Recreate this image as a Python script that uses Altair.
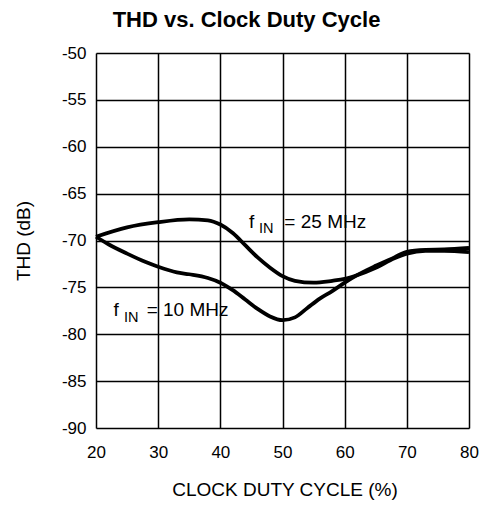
import altair as alt
import pandas as pd

# Data
duty_25 = [20, 25, 30, 35, 38, 40, 42, 44, 46, 48, 50, 52, 55, 58, 60, 62, 65, 68, 70, 73, 76, 80]
thd_25 = [-69.6, -68.6, -68.05, -67.75, -67.85, -68.3, -69.2, -70.5, -71.8, -72.9, -73.8, -74.3,
          -74.5, -74.3, -74.1, -73.7, -72.9, -71.9, -71.4, -71.1, -71.1, -71.25]

duty_10 = [20, 22, 25, 28, 30, 33, 35, 38, 40, 42, 44, 46, 48, 50, 52, 54, 56, 58, 60, 62, 65, 68, 70, 73, 76, 80]
thd_10 = [-69.6, -70.4, -71.4, -72.3, -72.8, -73.4, -73.6, -74.0, -74.5, -75.3, -76.3, -77.3, -78.1,
          -78.5, -78.2, -77.2, -76.2, -75.4, -74.5, -73.7, -72.7, -71.8, -71.2, -71.0, -70.95, -70.8]

x_ticks = [20, 30, 40, 50, 60, 70, 80]
y_ticks = [-90, -85, -80, -75, -70, -65, -60, -55, -50]

label_text = ["f", "IN", "= 25 MHz", "f", "IN", "= 10 MHz"]
label_x = [44.6, 46.2, 50.3, 22.8, 24.5, 28.15]
label_y = [-68.63, -69.2, -68.63, -78.1, -78.7, -78.1]
label_size = [19, 14.5, 19, 19, 14.5, 19]

FONT = "Liberation Sans"

rows = []
for x, y in zip(duty_25, thd_25):
    rows.append({"duty": x, "thd": y, "series": "25 MHz"})
for x, y in zip(duty_10, thd_10):
    rows.append({"duty": x, "thd": y, "series": "10 MHz"})
df = pd.DataFrame(rows)
labels = pd.DataFrame({"text": label_text, "duty": label_x, "thd": label_y, "size": label_size})

x_scale = alt.Scale(domain=[20, 80], nice=False, zero=False)
y_scale = alt.Scale(domain=[-90, -50], nice=False, zero=False)

x_axis = alt.Axis(values=x_ticks, title="CLOCK DUTY CYCLE (%)", grid=True, gridColor="black",
                  gridWidth=1.5, gridOpacity=1, ticks=False, domain=False, labelPadding=16,
                  labelFlush=False, labelExpr="'' + datum.value",
                  labelFontSize=17, labelFont=FONT, labelColor="black",
                  titleFont=FONT, titleFontSize=19, titleFontWeight="normal", titleColor="black",
                  titleY=61, titleX=188.5, titleBaseline="middle", titleAlign="center")
y_axis = alt.Axis(values=y_ticks, title="THD (dB)", grid=True, gridColor="black",
                  gridWidth=1.5, gridOpacity=1, ticks=False, domain=False, labelPadding=10,
                  labelFlush=False, labelExpr="'' + datum.value",
                  labelFontSize=17, labelFont=FONT, labelColor="black",
                  titleFont=FONT, titleFontSize=19, titleFontWeight="normal", titleColor="black",
                  titleX=-73, titleY=187.5, titleAngle=-90, titleBaseline="middle", titleAlign="center")

lines = alt.Chart(df).mark_line(color="black", strokeWidth=3.8, interpolate="monotone").encode(
    x=alt.X("duty:Q", scale=x_scale, axis=x_axis),
    y=alt.Y("thd:Q", scale=y_scale, axis=y_axis),
    detail="series:N",
)

text = alt.Chart(labels).mark_text(align="left", baseline="alphabetic", font=FONT,
                                    color="black").encode(
    x=alt.X("duty:Q", scale=x_scale),
    y=alt.Y("thd:Q", scale=y_scale),
    text="text:N",
    size=alt.Size("size:Q", scale=None, legend=None),
)

chart = alt.layer(lines, text).properties(
    width=373,
    height=375,
    padding={"left": 88, "top": 45, "right": 10, "bottom": 75},
    autosize="none",
    title=alt.TitleParams("THD vs. Clock Duty Cycle", font=FONT, fontSize=22, fontWeight="bold",
                          color="black", anchor="middle", dx=-36, offset=12),
).configure_view(stroke="black", strokeWidth=2).configure(background="white")

chart.save("out.html", embed_options={"renderer": "svg", "actions": False})
